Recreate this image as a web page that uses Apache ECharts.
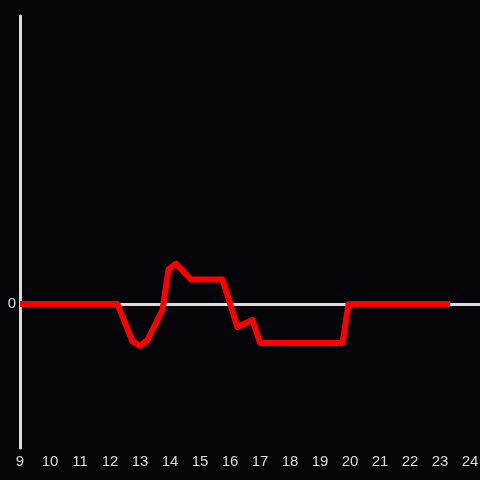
<!DOCTYPE html>
<html>
<head>
<meta charset="utf-8">
<script src="https://cdn.jsdelivr.net/npm/echarts@6/dist/echarts.min.js"></script>
<style>
  html, body { margin: 0; padding: 0; background: #050408; }
  #chart { width: 480px; height: 480px; }
</style>
</head>
<body>
<div id="chart"></div>
<script>
// x positions (hours) and values of the red line
const xValues = [9, 12.25, 12.75, 13.0, 13.25, 13.75, 13.95, 14.2, 14.7, 15.75, 16.25, 16.75, 17.0, 19.75, 19.95, 23.333];
const yValues = [0, 0, -0.26, -0.29, -0.25, -0.04, 0.24, 0.28, 0.17, 0.17, -0.16, -0.11, -0.27, -0.27, 0, 0];
const xTicks = [9, 10, 11, 12, 13, 14, 15, 16, 17, 18, 19, 20, 21, 22, 23, 24];

const AXIS_COLOR = '#dcdcdc';
const LINE_COLOR = '#ff0000';
const FONT = 'Liberation Sans, Arial, sans-serif';

const chart = echarts.init(document.getElementById('chart'));

const points = xValues.map((x, i) => [x, yValues[i]]);

chart.setOption({
  backgroundColor: '#050408',
  animation: false,
  grid: { left: 20, right: 0, top: 16, bottom: 32, outerBoundsMode: 'none', containLabel: false },
  xAxis: {
    type: 'value',
    min: 9,
    max: 24.333,
    interval: 1,
    axisLine: { show: false },
    axisTick: { show: false },
    splitLine: { show: false },
    axisLabel: {
      color: AXIS_COLOR,
      fontSize: 15,
      fontFamily: FONT,
      margin: 6,
      hideOverlap: false,
      formatter: (v) => (xTicks.includes(v) ? String(v) : ''),
    },
  },
  yAxis: {
    type: 'value',
    min: -1,
    max: 2,
    interval: 1,
    axisLine: { show: true, onZero: false, lineStyle: { color: AXIS_COLOR, width: 3 } },
    axisTick: { show: false },
    splitLine: { show: false },
    axisLabel: {
      color: AXIS_COLOR,
      fontSize: 15,
      fontFamily: FONT,
      margin: 4,
      padding: [3, 0, 0, 0],
      formatter: (v) => (v === 0 ? '0' : ''),
    },
  },
  series: [
    {
      // zero reference line, under the red line
      type: 'line',
      data: [],
      z: 1,
      markLine: {
        silent: true,
        symbol: 'none',
        label: { show: false },
        lineStyle: { color: AXIS_COLOR, width: 3, type: 'solid' },
        data: [{ yAxis: 0 }],
      },
    },
    {
      type: 'line',
      data: points,
      showSymbol: false,
      lineStyle: { color: LINE_COLOR, width: 6, join: 'round', cap: 'butt' },
      z: 5,
    },
  ],
});
</script>
</body>
</html>
